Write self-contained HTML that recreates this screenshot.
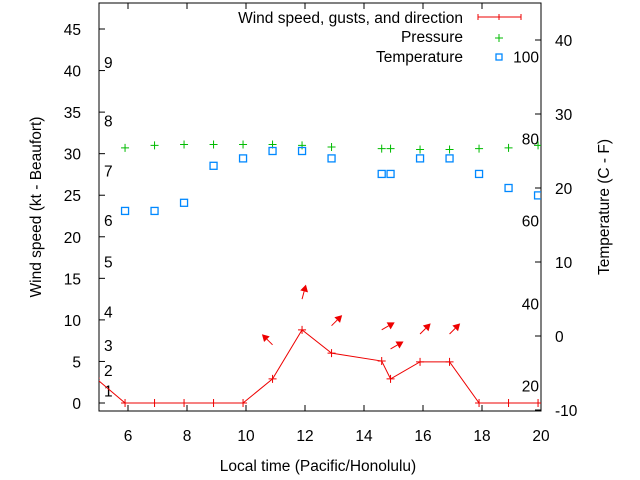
<!DOCTYPE html>
<html><head><meta charset="utf-8"><style>
body{margin:0;background:#fff}
svg{display:block;font-family:"Liberation Sans",sans-serif;font-size:15.5px}
</style></head><body>
<svg width="640" height="480" viewBox="0 0 640 480">
<g id="ax"></g>
<g id="marks"></g>
</svg>
<script>
const hours=[4.9,5.9,6.9,7.9,8.9,9.9,10.9,11.9,12.9,14.6,14.9,15.9,16.9,17.9,18.9,19.9];
const windKt=[3.0,0,0,0,0,0,2.9,8.8,6.0,5.05,2.9,4.95,4.95,0,0,0];
const pHours=[5.9,6.9,7.9,8.9,9.9,10.9,11.9,12.9,14.6,14.9,15.9,16.9,17.9,18.9,19.9];
const pressure=[30.7,31.0,31.1,31.1,31.1,31.1,31.0,30.8,30.6,30.6,30.5,30.5,30.6,30.7,31.0];
const tempC=[16.9,16.9,18.0,23.0,24.0,25.0,25.0,24.0,21.9,21.9,24.0,24.0,21.9,20.0,19.0];
const arrowHours=[10.9,11.9,12.9,14.6,14.9,15.9,16.9];
const arrowBaseKt=[7.0,12.5,9.3,8.8,6.5,8.3,8.3];
const arrowDirDeg=[135,195,225,240,240,225,225];
const xTicks=[6,8,10,12,14,16,18,20];
const yTicks=[0,5,10,15,20,25,30,35,40,45];
const y2Ticks=[-10,0,10,20,30,40];
const beaufort=[["1",1.5],["2",4],["3",7],["4",11],["5",17],["6",22],["7",28],["8",34],["9",41]];
const fahr=[["20",-6.7],["40",4.4],["60",15.6],["80",26.7],["100",37.8]];

const L=99,R=541,T=3,B=411;
const X=h=>98.5+(h-5)*29.5;
const Y=v=>403-v*8.311;
const Y2=c=>336-c*7.4;
const NS="http://www.w3.org/2000/svg";
const ax=document.getElementById('ax'), mk=document.getElementById('marks');
function el(p,tag,attrs,txt){const e=document.createElementNS(NS,tag);for(const k in attrs)e.setAttribute(k,attrs[k]);if(txt!=null)e.textContent=txt;p.appendChild(e);return e;}

let e=el(ax,'rect',{x:L,y:T,width:R-L,height:B-T,fill:'none',stroke:'#000','stroke-width':1});


xTicks.forEach(t=>{
 let x=X(t);
 el(ax,'line',{x1:x,x2:x,y1:B,y2:B-6,stroke:'#000'});
 el(ax,'line',{x1:x,x2:x,y1:T,y2:T+6,stroke:'#000'});
 let tx=el(ax,'text',{x:x,y:441,'text-anchor':'middle'},t);
 
 
});
yTicks.forEach(t=>{
 let y=Y(t);
 el(ax,'line',{x1:L,x2:L+6,y1:y,y2:y,stroke:'#000'});
 let tx=el(ax,'text',{x:81,y:y+6,'text-anchor':'end'},t);
 
 
});
y2Ticks.forEach(t=>{
 let y=Y2(t);
 el(ax,'line',{x1:R,x2:R-6,y1:y,y2:y,stroke:'#000'});
 let tx=el(ax,'text',{x:555,y:y+6,'text-anchor':'start'},t);
 
 
});
beaufort.forEach(b=>{
 let tx=el(ax,'text',{x:104,y:Y(b[1])+6},b[0]);
 
 
});
fahr.forEach(f=>{
 let tx=el(ax,'text',{x:539,y:Y2(f[1])+6,'text-anchor':'end'},f[0]);
 
 
});
e=el(ax,'text',{x:318,y:471,'text-anchor':'middle'},'Local time (Pacific/Honolulu)');


e=el(ax,'text',{x:0,y:0,'text-anchor':'middle',transform:'translate(41,207) rotate(-90)'},'Wind speed (kt - Beaufort)');


e=el(ax,'text',{x:0,y:0,'text-anchor':'middle',transform:'translate(609,207) rotate(-90)'},'Temperature (C - F)');



// legend
const lg=el(ax,'g',{});


el(lg,'text',{x:463,y:23,'text-anchor':'end'},'Wind speed, gusts, and direction');
el(lg,'line',{x1:478,x2:521,y1:17,y2:17,stroke:'#e00'});
[478,499,521].forEach(x=>el(lg,'line',{x1:x,x2:x,y1:14,y2:20,stroke:'#e00'}));
el(lg,'text',{x:463,y:42,'text-anchor':'end'},'Pressure');
el(lg,'path',{d:'M495,38h8M499,34v8',stroke:'#0b0',fill:'none'});
el(lg,'text',{x:463,y:62,'text-anchor':'end'},'Temperature');
el(lg,'rect',{x:496,y:54,width:6,height:6,fill:'none',stroke:'#08f','stroke-width':1.3});

// clip
const defs=el(mk,'defs',{});
const cp=el(defs,'clipPath',{id:'c'});el(cp,'rect',{x:L,y:T,width:R-L,height:B-T});
const g=el(mk,'g',{'clip-path':'url(#c)'});
let pts=hours.map((h,i)=>X(h)+','+Y(windKt[i])).join(' ');
e=el(g,'polyline',{points:pts,fill:'none',stroke:'#e00','stroke-width':1});


hours.forEach((h,i)=>{
 const x=X(h),y=Y(windKt[i]);
 let p=el(g,'path',{d:`M${x-4},${y}h8M${x},${y-4}v8`,stroke:'#e00'});
 
 
});
pHours.forEach((h,i)=>{
 const x=X(h),y=Y(pressure[i]);
 let p=el(g,'path',{d:`M${x-4},${y}h8M${x},${y-4}v8`,stroke:'#0b0'});
 
 
 const ty=Y2(tempC[i]);
 let r=el(g,'rect',{x:x-3.5,y:ty-3.5,width:7,height:7,fill:'none',stroke:'#08f','stroke-width':1.3});
 
 
});
arrowHours.forEach((h,i)=>{
 const x=X(h),y=Y(arrowBaseKt[i]);
 const a=arrowDirDeg[i]*Math.PI/180, len=15;
 const dx=-Math.sin(a)*len, dy=Math.cos(a)*len;
 const x2=x+dx,y2=y+dy, ux=dx/len,uy=dy/len;
 const hx=x2-ux*7,hy=y2-uy*7;
 let a1=el(g,'g',{});
 
 
 el(a1,'line',{x1:x,y1:y,x2:hx,y2:hy,stroke:'#e00'});
 el(a1,'polygon',{points:`${x2},${y2} ${hx-uy*4},${hy+ux*4} ${hx+uy*4},${hy-ux*4}`,fill:'#e00'});
});
</script>
</body></html>
